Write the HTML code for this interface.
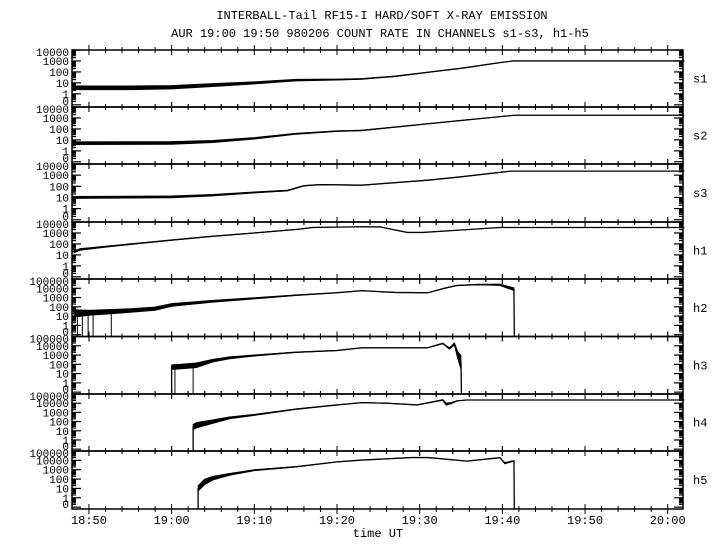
<!DOCTYPE html>
<html><head><meta charset="utf-8"><style>
html,body{margin:0;padding:0;background:#fff;}
svg{display:block;font-family:"Liberation Mono",monospace;}
</style></head><body>
<svg id="chart" width="720" height="550" viewBox="0 0 720 550" xmlns="http://www.w3.org/2000/svg">
<text x="382" y="19" font-size="12" text-anchor="middle">INTERBALL-Tail RF15-I HARD/SOFT X-RAY EMISSION</text>
<text x="380" y="37" font-size="12" text-anchor="middle">AUR 19:00 19:50 980206  COUNT RATE IN CHANNELS s1-s3, h1-h5</text>
<text x="378" y="537" font-size="12" text-anchor="middle">time UT</text>
<g id="plots"></g>
</svg>
<script>
// time in minutes after 18:00; values in log10(count rate); S = noise spread (log units)
const panelNames = ["s1","s2","s3","h1","h2","h3","h4","h5"];
const s1T=[48,55,60,65,70,75,80,83,87,91,95,99.7,101.3,122];
const s1V=[0.55,0.55,0.6,0.8,1.0,1.25,1.3,1.36,1.6,1.97,2.33,2.85,3.0,3.0];
const s1S=[0.35,0.35,0.32,0.28,0.2,0.15,0.1,0.07,0.05,0.03,0.03,0.02,0,0];
const s2T=[48,60,65,70,75,80,83,91,95,101.5,122];
const s2V=[0.7,0.72,0.85,1.14,1.55,1.8,1.86,2.47,2.77,3.25,3.25];
const s2S=[0.25,0.25,0.2,0.14,0.1,0.07,0.05,0.03,0.03,0,0];
const s3T=[48,60,65,70,74,76,78,83,91,95,101,122];
const s3V=[1.0,1.05,1.2,1.45,1.62,2.05,2.15,2.1,2.55,2.85,3.36,3.36];
const s3S=[0.18,0.18,0.14,0.1,0.07,0.05,0.04,0.03,0.03,0.02,0,0];
const h1T=[48.2,49,52,56,60,65,70,75.5,77,83,85.2,88.5,90.4,95,99.7,122];
const h1V=[1.3,1.5,1.75,2.05,2.35,2.7,3.0,3.35,3.5,3.57,3.55,3.05,3.05,3.27,3.5,3.5];
const h1S=[0.2,0.15,0.1,0.07,0.05,0.03,0.03,0.02,0.01,0,0,0,0,0,0,0];
const h2T=[48.2,50,55,58,60,65,70,75,80,83,87,91,93,94.5,97,99.7,101.4];
const h2V=[1.3,1.35,1.6,1.8,2.2,2.6,2.92,3.25,3.52,3.74,3.55,3.52,4.0,4.3,4.4,4.38,3.9];
const h2S=[0.8,0.55,0.4,0.35,0.3,0.22,0.15,0.08,0.04,0.02,0.02,0.02,0.05,0.05,0.05,0.15,0.3];
const h2Drops=[48.6,49.2,49.9,50.5,52.7];
const h3T=[60,61,63,65,67,70,75,80,83,90.9,92.8,93.6,94.2,94.6,95];
const h3V=[1.7,1.75,1.9,2.4,2.7,2.95,3.3,3.49,3.78,3.78,4.25,3.7,4.2,3.0,2.2];
const h3S=[0.5,0.5,0.5,0.3,0.22,0.12,0.06,0.04,0.02,0.02,0.08,0.15,0.25,0.8,1.5];
const h3Drops=[60.4,62.6];
const h4T=[62.6,63,65,67,70,75,80,83,86,89.7,92.8,93.2,93.8,94.5,95.7,122];
const h4V=[1.4,1.6,2.0,2.4,2.73,3.35,3.81,4.06,4.0,3.81,4.35,3.9,4.0,4.25,4.35,4.35];
const h4S=[0.6,0.6,0.4,0.22,0.12,0.06,0.03,0.02,0.02,0.02,0.08,0.25,0.15,0.04,0,0];
const h5T=[63.2,64,65,67,70,75,80,83,89,91,95.7,99.7,100.3,101.4];
const h5V=[1.0,1.7,2.1,2.5,2.95,3.31,3.84,4.03,4.3,4.3,3.92,4.28,3.7,3.95];
const h5S=[0.6,0.6,0.4,0.22,0.12,0.06,0.03,0.02,0.02,0.02,0.02,0.04,0.15,0.08];
const xTickLabels=["18:50","19:00","19:10","19:20","19:30","19:40","19:50","20:00"];
const xTickTimes=[50,60,70,80,90,100,110,120];

const series=[[s1T,s1V,s1S,[],0],[s2T,s2V,s2S,[],0],[s3T,s3V,s3S,[],0],[h1T,h1V,h1S,[],0],
  [h2T,h2V,h2S,h2Drops,1],[h3T,h3V,h3S,h3Drops,1],[h4T,h4V,h4S,[],1],[h5T,h5V,h5S,[],1]];
const tops=[50,107,164,222,279,336.5,394,451,509];
const X0=72,X1=683;
const tMin=47.95,tMax=121.85;
function xs(t){return X0+(t-tMin)/(tMax-tMin)*(X1-X0);}
const NS="http://www.w3.org/2000/svg";
const g=document.getElementById("plots");
function mk(tag,attrs,parent){const e=document.createElementNS(NS,tag);for(const k in attrs)e.setAttribute(k,attrs[k]);(parent||g).appendChild(e);return e;}

series.forEach((s,i)=>{
  const [T,V,S,D,hard]=s;
  const top=tops[i],bot=tops[i+1];
  const ymax=hard?5.0:4.0, ymin=-1.2;
  const ys=v=>top+(ymax-Math.max(ymin,Math.min(ymax,v)))/(ymax-ymin)*(bot-top);
  const pg=mk("g",{});
  
  
  const fr=mk("rect",{x:X0,y:top,width:X1-X0,height:bot-top,fill:"none",stroke:"#000","stroke-width":1.5},pg);
  
  
  for(let t=50;t<=121;t+=2){
    const major=(t%10===0);
    const len=major?5:3;
    const x=xs(t);
    mk("line",{x1:x,x2:x,y1:top-len,y2:top+len,stroke:"#000","stroke-width":1},pg);
    mk("line",{x1:x,x2:x,y1:bot-len,y2:bot+len,stroke:"#000","stroke-width":1},pg);
  }
  const maxDec=hard?5:4;
  for(let d=-1;d<=maxDec;d++){
    for(let m=1;m<=9;m++){
      const lv=d+Math.log10(m);
      if(lv<ymin||lv>ymax)continue;
      const y=ys(lv);const len=(m===1)?9:4;
      mk("line",{x1:X0,x2:X0+len,y1:y,y2:y,stroke:"#000","stroke-width":1.2},pg);
      mk("line",{x1:X1-len,x2:X1,y1:y,y2:y,stroke:"#000","stroke-width":1.2},pg);
    }
  }
  const labs=hard?["0","1","10","100","1000","10000","100000"]:["0","1","10","100","1000","10000"];
  labs.forEach((l,k)=>{
    let y;
    if(k===0)y=ys(-0.65);
    else y=ys(k-1);
    if(k===labs.length-1)y=top+2;
    const tx=mk("text",{x:69,y:y+4,"font-size":11,"text-anchor":"end"},pg);
    tx.textContent=l;
    
    
  });
  const cl=mk("text",{x:693,y:(top+bot)/2+4,"font-size":12},pg);
  cl.textContent=panelNames[i];
  
  
  let up=[],lo=[];
  T.forEach((t,k)=>{up.push(xs(t)+","+ys(V[k]+S[k]/2));lo.unshift(xs(t)+","+ys(V[k]-S[k]/2));});
  const band=mk("polygon",{points:up.concat(lo).join(" "),fill:"#000",stroke:"#000","stroke-width":0.8},pg);
  
  
  const pts=T.map((t,k)=>xs(t)+","+ys(V[k]));
  if(hard && T[T.length-1]<120){pts.push(xs(T[T.length-1]+0.05)+","+bot);}
  if(hard && T[0]>55){pts.unshift(xs(T[0])+","+bot);}
  const pl=mk("polyline",{points:pts.join(" "),fill:"none",stroke:"#000","stroke-width":1.3},pg);
  
  
  D.forEach(t=>{
    let k=0;while(k<T.length-1&&T[k+1]<t)k++;
    const dl=mk("line",{x1:xs(t),x2:xs(t),y1:ys(V[k]),y2:bot,stroke:"#000","stroke-width":1},pg);
    
    
  });
});
xTickTimes.forEach((t,k)=>{
  const tx=mk("text",{x:xs(t),y:524,"font-size":12,"text-anchor":"middle"});
  tx.textContent=xTickLabels[k];
  
  
});
</script>
</body></html>
